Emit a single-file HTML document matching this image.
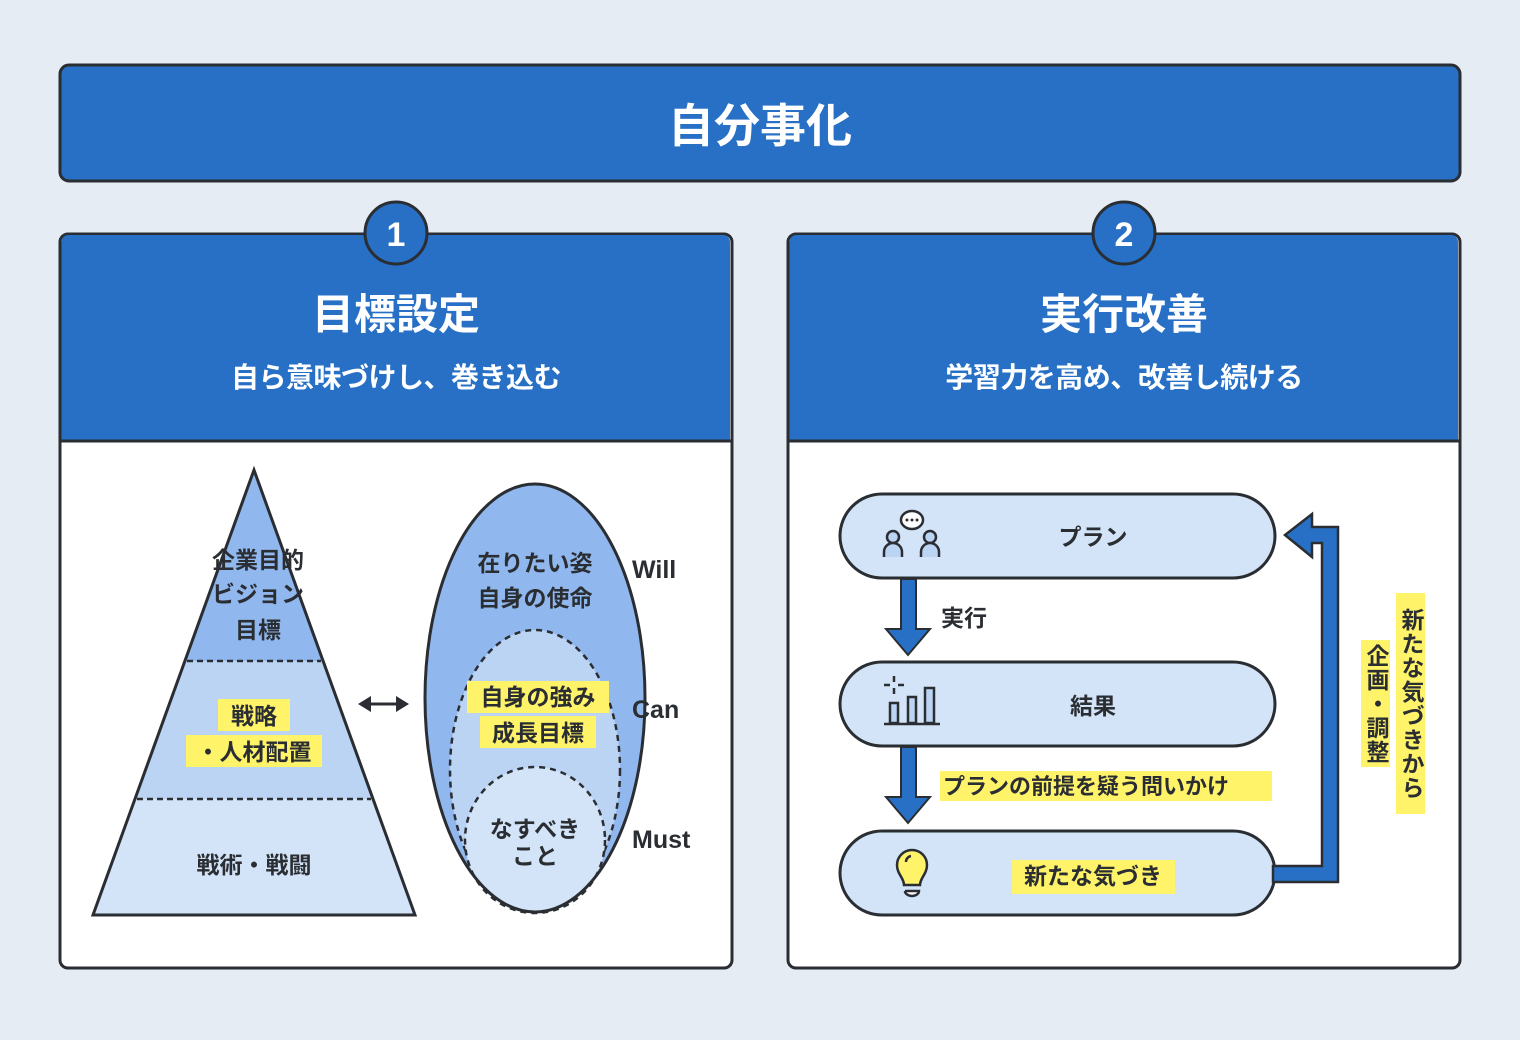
<!DOCTYPE html>
<html><head><meta charset="utf-8"><style>
html,body{margin:0;padding:0;}
body{width:1520px;height:1040px;background:#e6ecf3;position:relative;overflow:hidden;font-family:"Liberation Sans","Noto Sans CJK JP",sans-serif;}
svg{position:absolute;left:0;top:0;}
svg text{font-family:"Liberation Sans","Noto Sans CJK JP",sans-serif;font-weight:bold;}
.v{position:absolute;writing-mode:vertical-rl;background:#fff36a;color:#2a2e33;font-weight:bold;font-size:23px;line-height:29px;letter-spacing:1px;text-align:center;}
</style></head><body>
<svg width="1520" height="1040" viewBox="0 0 1520 1040">
<rect x="60" y="65" width="1400" height="116" rx="9" fill="#2770c6" stroke="#2a2e33" stroke-width="3"/>
<text x="760" y="142" text-anchor="middle" font-size="46" fill="#fff">自分事化</text>
<rect x="60" y="234" width="672" height="734" rx="8" fill="#fff" stroke="#2a2e33" stroke-width="3"/>
<path d="M61.5 441 V242 a7 7 0 0 1 7 -7 H723 a7 7 0 0 1 7 7 V441 Z" fill="#2770c6"/>
<line x1="60" y1="441" x2="732" y2="441" stroke="#2a2e33" stroke-width="3"/>
<rect x="788" y="234" width="672" height="734" rx="8" fill="#fff" stroke="#2a2e33" stroke-width="3"/>
<path d="M789.5 441 V242 a7 7 0 0 1 7 -7 H1451 a7 7 0 0 1 7 7 V441 Z" fill="#2770c6"/>
<line x1="788" y1="441" x2="1460" y2="441" stroke="#2a2e33" stroke-width="3"/>
<circle cx="396" cy="233" r="31" fill="#2770c6" stroke="#2a2e33" stroke-width="3"/>
<text x="396" y="246" text-anchor="middle" font-size="34" fill="#fff">1</text>
<circle cx="1124" cy="233" r="31" fill="#2770c6" stroke="#2a2e33" stroke-width="3"/>
<text x="1124" y="246" text-anchor="middle" font-size="34" fill="#fff">2</text>
<text x="396" y="329" text-anchor="middle" font-size="42" fill="#fff">目標設定</text>
<text x="396" y="387" text-anchor="middle" font-size="28" fill="#fff" letter-spacing="-0.5">自ら意味づけし、巻き込む</text>
<text x="1124" y="329" text-anchor="middle" font-size="42" fill="#fff">実行改善</text>
<text x="1124" y="387" text-anchor="middle" font-size="28" fill="#fff" letter-spacing="-0.5">学習力を高め、改善し続ける</text>

<polygon points="254,470 185,661 323,661" fill="#91b8ee"/>
<polygon points="185,661 323,661 373,799 135,799" fill="#bcd4f4"/>
<polygon points="135,799 373,799 415,915 93,915" fill="#d3e4f8"/>
<polygon points="254,470 415,915 93,915" fill="none" stroke="#2a2e33" stroke-width="3"/>
<line x1="187" y1="661" x2="321" y2="661" stroke="#2a2e33" stroke-width="2.5" stroke-dasharray="6,4"/>
<line x1="137" y1="799" x2="371" y2="799" stroke="#2a2e33" stroke-width="2.5" stroke-dasharray="6,4"/>
<g font-size="23" fill="#2a2e33" text-anchor="middle">
<text x="258" y="568">企業目的</text>
<text x="258" y="602">ビジョン</text>
<text x="258" y="638">目標</text>
<rect x="218" y="699" width="72" height="32" fill="#fff36a"/>
<text x="254" y="724">戦略</text>
<rect x="186" y="735" width="136" height="32" fill="#fff36a"/>
<text x="254" y="760">・人材配置</text>
<text x="254" y="873">戦術・戦闘</text>
</g>
<line x1="368" y1="704" x2="398" y2="704" stroke="#2a2e33" stroke-width="3"/>
<polygon points="358,704 371,696 371,712" fill="#2a2e33"/>
<polygon points="409,704 396,696 396,712" fill="#2a2e33"/>
<ellipse cx="535" cy="698" rx="110" ry="214" fill="#91b8ee"/>
<ellipse cx="535" cy="770" rx="85" ry="140" fill="#bcd4f4" stroke="#2a2e33" stroke-width="2.5" stroke-dasharray="6,5"/>
<ellipse cx="535" cy="840" rx="70" ry="73" fill="#d3e4f8" stroke="#2a2e33" stroke-width="2.5" stroke-dasharray="6,5"/>
<ellipse cx="535" cy="698" rx="110" ry="214" fill="none" stroke="#2a2e33" stroke-width="3"/>
<g font-size="23" fill="#2a2e33" text-anchor="middle">
<text x="535" y="571">在りたい姿</text>
<text x="535" y="606">自身の使命</text>
<rect x="467" y="681" width="142" height="32" fill="#fff36a"/>
<text x="538" y="705">自身の強み</text>
<rect x="480" y="716" width="116" height="32" fill="#fff36a"/>
<text x="538" y="741">成長目標</text>
<text x="535" y="837">なすべき</text>
<text x="535" y="864">こと</text>
<text x="632" y="578" text-anchor="start" font-size="25">Will</text>
<text x="632" y="718" text-anchor="start" font-size="25">Can</text>
<text x="632" y="848" text-anchor="start" font-size="25">Must</text>
</g>

<rect x="840" y="494" width="435" height="84" rx="42" fill="#d3e4f8" stroke="#2a2e33" stroke-width="3"/>
<rect x="840" y="662" width="435" height="84" rx="42" fill="#d3e4f8" stroke="#2a2e33" stroke-width="3"/>
<rect x="840" y="831" width="435" height="84" rx="42" fill="#d3e4f8" stroke="#2a2e33" stroke-width="3"/>
<polygon points="901,579 916,579 916,629 930,629 908,655 886,629 901,629" fill="#2770c6" stroke="#2a2e33" stroke-width="2"/>
<polygon points="901,747 916,747 916,797 930,797 908,823 886,797 901,797" fill="#2770c6" stroke="#2a2e33" stroke-width="2"/>
<polygon points="1273,866 1322,866 1322,543 1312,543 1312,557 1285,535 1312,514 1312,527 1338,527 1338,882 1273,882" fill="#2770c6" stroke="#2a2e33" stroke-width="2.5"/>
<g font-size="23" fill="#2a2e33">
<text x="1093" y="545" text-anchor="middle">プラン</text>
<text x="1093" y="714" text-anchor="middle">結果</text>
<text x="941" y="626">実行</text>
<rect x="940" y="771" width="332" height="30" fill="#fff36a"/>
<text x="943" y="794" font-size="22">プランの前提を疑う問いかけ</text>
<rect x="1012" y="860" width="163" height="34" fill="#fff36a"/>
<text x="1093" y="884" text-anchor="middle">新たな気づき</text>
</g>
<g stroke="#2a2e33" stroke-width="2.5" fill="#bcd4f4">
<circle cx="893" cy="537" r="6"/>
<circle cx="930" cy="537" r="6"/>
<path d="M884 557 V552 a9 9 0 0 1 18 0 V557"/>
<path d="M921 557 V552 a9 9 0 0 1 18 0 V557"/>
<ellipse cx="912" cy="520" rx="11" ry="9" fill="#fff"/>
</g>
<g fill="#2a2e33"><circle cx="907" cy="520" r="1.5"/><circle cx="912" cy="520" r="1.5"/><circle cx="917" cy="520" r="1.5"/></g>
<g stroke="#2a2e33" stroke-width="2.5" fill="#bcd4f4">
<rect x="890" y="703" width="8" height="20"/>
<rect x="908" y="697" width="8" height="26"/>
<rect x="925" y="688" width="9" height="35"/>
<line x1="884" y1="724" x2="940" y2="724"/>
<line x1="894" y1="676" x2="894" y2="682"/><line x1="894" y1="688" x2="894" y2="694"/>
<line x1="884" y1="685" x2="890" y2="685"/><line x1="898" y1="685" x2="904" y2="685"/>
</g>
<g stroke="#2a2e33" stroke-width="2.5">
<path d="M904 885 C904 878 897 874 897 865 a15 15 0 0 1 30 0 C927 874 920 878 920 885 Z" fill="#fff36a"/>
<path d="M905 891 h14 a7 5 0 0 1 -14 0" fill="#fff"/>
<path d="M906 862 a6 6 0 0 1 5 -6" fill="none"/>
</g>
</svg>
<div class="v" style="left:1396px;top:593px;width:29px;height:221px;">新たな気づきから</div>
<div class="v" style="left:1361px;top:640px;width:29px;height:127px;">企画・調整</div>
</body></html>
